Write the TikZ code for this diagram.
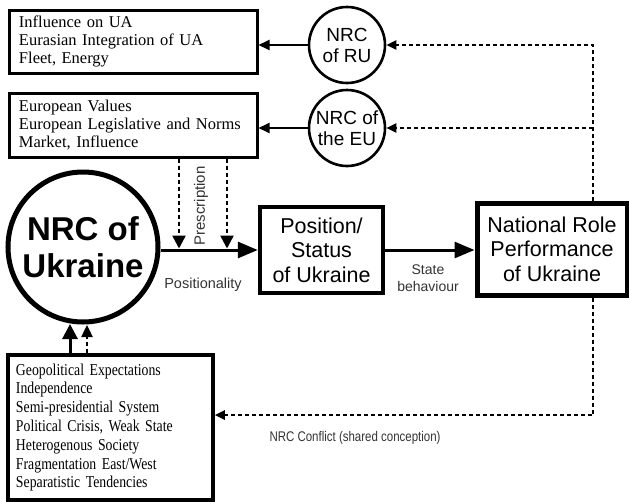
\documentclass[tikz,border=0pt]{standalone}
\usepackage{fontspec}
\setmainfont{Liberation Serif}
\setsansfont{Liberation Sans}
\newfontfamily\narrowserif[FakeStretch=0.83]{Liberation Serif}
\newfontfamily\narrowsans[FakeStretch=0.82]{Liberation Sans}
\usetikzlibrary{arrows.meta}

\begin{document}
\begin{tikzpicture}[
        x=1pt, y=-1pt,
        factorbox/.style={draw,line width=3pt,align=left,inner xsep=10pt,inner ysep=0pt,
            font=\fontsize{16.5}{18}\selectfont},
        rolecircle/.style={circle,draw,line width=2.6pt,minimum size=76pt,inner sep=0pt,align=center,
            font=\sffamily\fontsize{19}{21}\selectfont},
        statebox/.style={draw,line width=4.5pt,align=center,inner sep=0pt,
            font=\sffamily\fontsize{21.5}{24.5}\selectfont},
        label/.style={align=center,text=black!80,font=\sffamily\fontsize{14.5}{17}\selectfont},
        solidarrow/.style={line width=1.8pt,-{Triangle[length=11pt,width=10pt]}},
        bigarrow/.style={line width=3pt,-{Triangle[length=20pt,width=16pt]}},
        dasharrow/.style={line width=2.4pt,dash pattern=on 4pt off 3pt,-{Triangle[length=10pt,width=9pt]}},
    ]
    \useasboundingbox (0,0) rectangle (629,501);
    \node[factorbox,minimum width=248pt,minimum height=63pt,text width=228pt] (ruvalues) at (133,41.5)
        {Influence on UA\\Eurasian Integration of UA\\Fleet, Energy};
    \node[factorbox,minimum width=248pt,minimum height=64pt,text width=228pt] (euvalues) at (133,125)
        {European Values\\European Legislative and Norms\\Market, Influence};
    \node[factorbox,line width=3.5pt,inner xsep=8pt,minimum width=205pt,minimum height=145pt,text width=189pt,
        font=\narrowserif\fontsize{16.6}{18.8}\selectfont] (domestic) at (110.5,427.5)
        {Geopolitical Expectations\\Independence\\Semi-presidential System\\Political Crisis, Weak State\\%
         Heterogenous Society\\Fragmentation East/West\\Separatistic Tendencies};
    \node[rolecircle] (nrcru) at (347,45) {NRC\\of RU};
    \node[rolecircle] (nrceu) at (347,128) {NRC of\\the EU};
    \node[circle,draw,line width=5pt,minimum size=150pt,inner sep=0pt,align=center,
        font=\sffamily\bfseries\fontsize{33}{36.5}\selectfont] (nrcua) at (83,247) {NRC of\\Ukraine};
    \node[statebox,minimum width=123pt,minimum height=86pt] (status) at (321.5,250)
        {Position/\\Status\\of Ukraine};
    \node[statebox,line width=5pt,minimum width=150pt,minimum height=92pt] (perform) at (552,249)
        {National Role\\Performance\\of Ukraine};

    \coordinate (presca) at (179,248.5);
    \coordinate (prescb) at (227,248.5);
    \coordinate (inflowa) at (70,324);
    \coordinate (inflowb) at (87,325);
    \coordinate (fbtop) at (593,45);
    \coordinate (fbbot) at (593,415);

    \draw[solidarrow] (nrcru.west) -- (nrcru.west -| ruvalues.east);
    \draw[solidarrow] (nrceu.west) -- (nrceu.west -| euvalues.east);
    \draw[bigarrow] (nrcua.east |- status.west) -- (status.west);
    \draw[bigarrow] (status.east) -- (status.east -| perform.west);
    \draw[dasharrow,-{Triangle[length=13pt,width=13pt]}] (euvalues.south -| presca) -- (presca);
    \draw[dasharrow,-{Triangle[length=13pt,width=13pt]}] (euvalues.south -| prescb) -- (prescb);
    \draw[line width=3pt,-{Triangle[length=15pt,width=15pt]}] (domestic.north -| inflowa) -- (inflowa);
    \draw[dasharrow,-{Triangle[length=12pt,width=11pt]}] (domestic.north -| inflowb) -- (inflowb);
    \draw[dasharrow] (perform.north -| fbtop) -- (fbtop) -- (nrcru.east);
    \draw[dasharrow] (fbtop |- nrceu.east) -- (nrceu.east);
    \draw[dasharrow] (perform.south -| fbbot) -- (fbbot) -- (fbbot -| domestic.east);

    \node[label,rotate=90,font=\sffamily\fontsize{15}{17}\selectfont] (presc) at (201,206) {Prescription};
    \node[label] (posit) at (203,285) {Positionality};
    \node[label,font=\sffamily\fontsize{14}{17}\selectfont] (behav) at (428,278) {State\\behaviour};
    \node[label,font=\narrowsans\fontsize{14}{17}\selectfont] (conflict) at (355,438)
        {NRC Conflict (shared conception)};
\end{tikzpicture}
\end{document}
